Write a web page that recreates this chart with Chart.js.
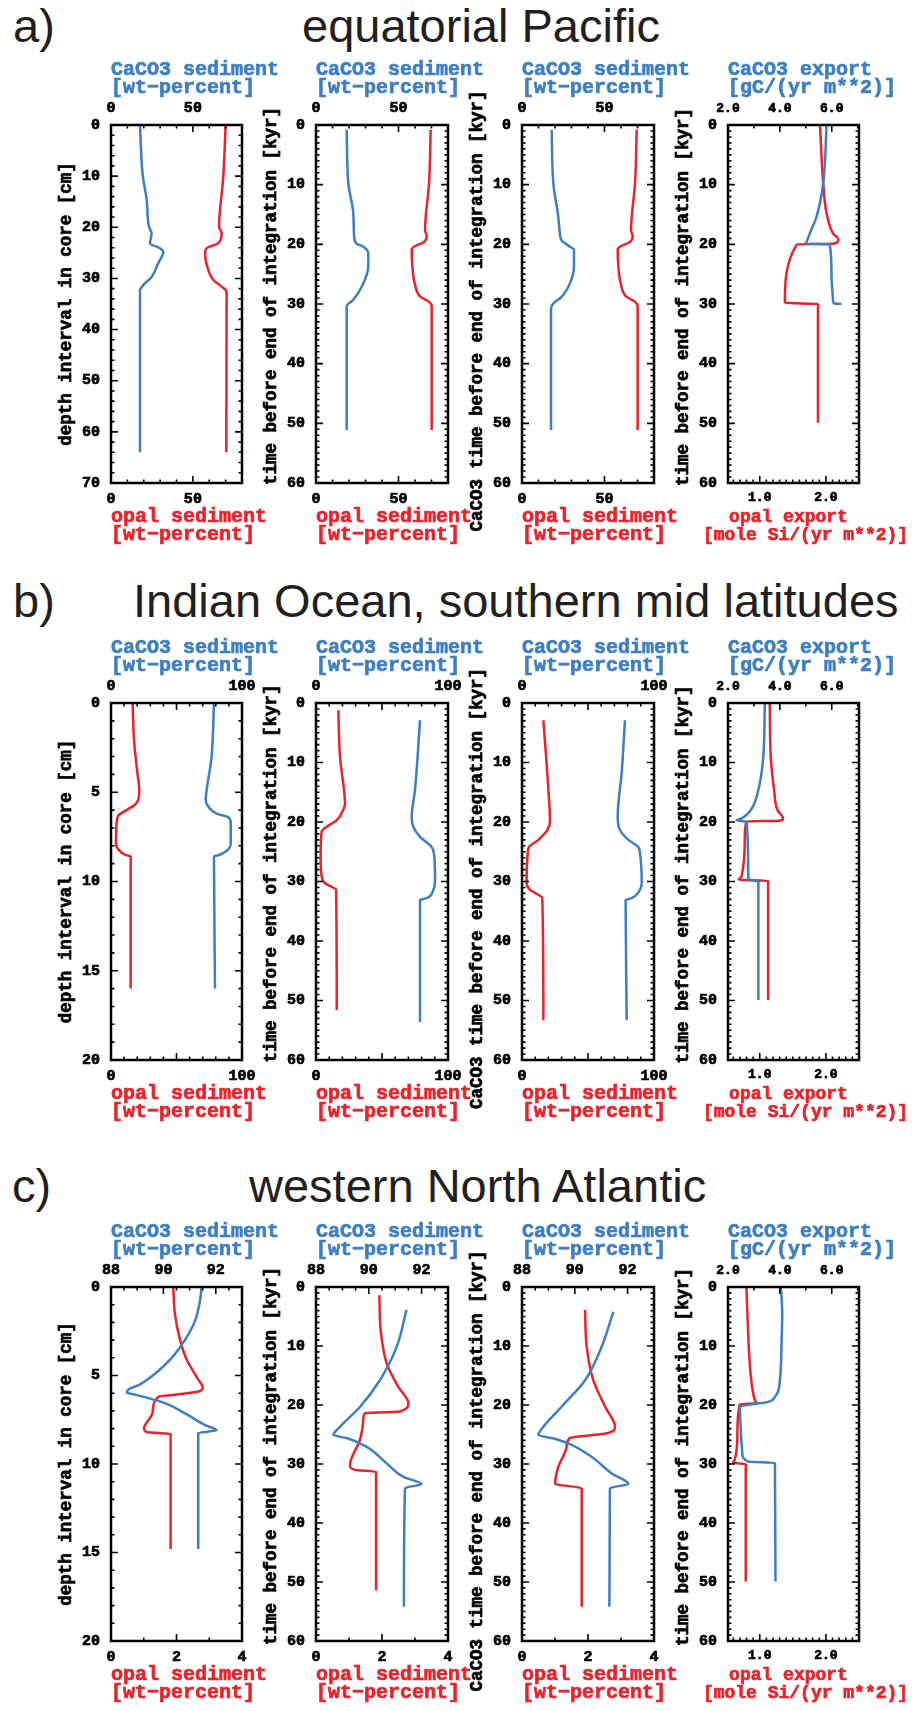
<!DOCTYPE html>
<html>
<head>
<meta charset="utf-8">
<title>CaCO3 and opal profiles</title>
<script src="https://cdn.jsdelivr.net/npm/chart.js@4.4.1/dist/chart.umd.min.js"></script>
<style>
  html, body { margin: 0; padding: 0; background: #fff; overflow: hidden; }
  #fig { position: relative; width: 912px; height: 1711px; }
  #fig canvas { position: absolute; }
  .head { position: absolute; font-family: "Liberation Sans", Arial, sans-serif; font-size: 47px;
          line-height: 47px; color: #231f20; white-space: nowrap; }
</style>
</head>
<body>
<div id="fig">
  <div class="head" style="left:13px; top:2px">a)</div>
  <div class="head" style="left:302px; top:2px">equatorial Pacific</div>
  <div class="head" style="left:13px; top:577px">b)</div>
  <div class="head" style="left:133px; top:577px">Indian Ocean, southern mid latitudes</div>
  <div class="head" style="left:12px; top:1162px">c)</div>
  <div class="head" style="left:249px; top:1162px">western North Atlantic</div>
</div>
<script>
const BLUE = '#3d7fc2';
const RED = '#e8232b';
const INK = '#000';
const MONO = '"Liberation Mono", "Courier New", monospace';

// ---- values ----
// a) equatorial Pacific (depth in cm / time in kyr, wt-percent, export fluxes)
const a1CaY = [0, 9.6, 14.7, 19.9, 21.2, 23.1, 24.1, 24.8, 27.0, 29.7, 31.3, 32.3, 64];
const a1Ca  = [17.7, 19.3, 21.8, 23.2, 24.8, 23.8, 29.9, 32.0, 28.9, 24.8, 19.7, 17.7, 17.7];
const a1OpY = [0, 10, 19.9, 21.2, 23.1, 24.1, 25.1, 27.7, 30.3, 31.6, 32.6, 64];
const a1Op  = [70.0, 68.6, 66.0, 67.6, 65.5, 58.4, 57.4, 58.8, 62.5, 67.6, 70.6, 70.4];

const a2CaY = [0.8, 9.8, 14.8, 18.2, 19.8, 20.4, 21.5, 23.7, 27.1, 29.3, 30.4, 51.1];
const a2Ca  = [18.6, 19.6, 22.6, 23.0, 24.2, 28.7, 31.7, 31.7, 27.7, 22.6, 18.6, 18.6];
const a2OpY = [0.8, 9.8, 15.4, 17.6, 18.7, 19.6, 20.4, 20.9, 23.7, 26.5, 28.8, 29.6, 30.4, 51.1];
const a2Op  = [69.5, 68.5, 66.5, 66.1, 67.1, 65.4, 59.4, 58.0, 58.4, 59.8, 63.4, 68.5, 70.1, 70.1];

const a3CaY = [0.8, 9.8, 15.4, 18.2, 19.3, 20.4, 20.9, 23.7, 26.5, 28.8, 29.9, 30.7, 51.1];
const a3Ca  = [18.0, 19.0, 22.0, 23.0, 24.0, 29.1, 31.5, 31.5, 29.1, 24.0, 19.0, 17.6, 17.6];
const a3OpY = [0.8, 9.8, 15.4, 17.6, 18.7, 19.6, 20.4, 20.9, 23.7, 26.5, 28.8, 29.6, 30.4, 51.1];
const a3Op  = [69.5, 68.5, 66.5, 66.1, 67.1, 65.4, 59.4, 58.0, 58.4, 59.8, 63.4, 68.5, 70.1, 70.1];

const a4CaY = [0, 9.8, 15.4, 18.2, 19.6, 19.9, 20.0, 25.0, 29.5, 29.9, 30.0];
const a4Ca  = [5.80, 5.67, 5.41, 5.15, 5.03, 5.00, 5.92, 5.99, 6.05, 6.10, 6.37];
const a4OpY = [0, 9.8, 14.8, 18.2, 19.2, 19.9, 20.0, 29.8, 30.0, 49.9];
const a4Op  = [1.91, 1.96, 2.01, 2.11, 2.19, 2.12, 1.56, 1.38, 1.88, 1.88];

// b) Indian Ocean, southern mid latitudes
const b1CaY = [0, 3.0, 4.9, 5.4, 5.8, 6.2, 6.4, 6.7, 7.9, 8.2, 8.5, 8.6, 16.0];
const b1Ca  = [78.6, 76.8, 73.0, 72.3, 74.3, 80.7, 89.6, 91.4, 91.4, 89.6, 83.2, 78.6, 79.4];
const b1OpY = [0, 2.1, 3.9, 4.9, 5.4, 5.7, 6.1, 6.3, 6.7, 7.9, 8.2, 8.5, 8.6, 16.0];
const b1Op  = [16.5, 17.6, 20.1, 21.6, 20.9, 18.3, 9.4, 5.6, 4.3, 3.8, 5.6, 10.7, 15.0, 15.0];

const b2CaY = [2.9, 14.6, 19.1, 20.8, 22.5, 24.2, 25.3, 29.7, 31.4, 32.8, 33.1, 53.6];
const b2Ca  = [78.8, 75.0, 72.5, 73.7, 78.8, 87.6, 89.4, 90.2, 88.9, 83.8, 78.8, 78.8];
const b2OpY = [1.2, 9.0, 14.6, 16.9, 18.5, 19.7, 20.8, 21.6, 25.8, 29.2, 30.3, 31.4, 51.6];
const b2Op  = [16.9, 18.2, 21.2, 22.0, 19.4, 15.7, 8.1, 4.3, 3.5, 4.3, 6.8, 15.2, 15.7];

const b3CaY = [2.9, 11.8, 19.1, 21.3, 23.0, 24.2, 25.3, 30.3, 31.7, 32.8, 33.1, 53.3];
const b3Ca  = [78.0, 75.5, 72.5, 74.2, 80.6, 88.1, 89.4, 90.7, 88.6, 83.1, 78.5, 79.3];
const b3OpY = [2.9, 14.6, 19.7, 21.3, 23.0, 24.2, 25.3, 30.3, 31.4, 32.8, 53.3];
const b3Op  = [16.2, 20.0, 21.2, 19.4, 12.4, 5.3, 4.3, 3.5, 6.1, 15.4, 16.2];

const b4CaY = [0, 9.0, 14.6, 18.0, 19.4, 19.7, 20.0, 29.2, 29.8, 30.0, 49.9];
const b4Ca  = [3.42, 3.36, 3.17, 2.88, 2.53, 2.33, 2.72, 2.78, 2.85, 3.17, 3.17];
const b4OpY = [0, 9.0, 14.6, 18.0, 19.4, 19.8, 19.9, 23.0, 29.2, 29.7, 29.9, 49.9];
const b4Op  = [1.151, 1.166, 1.217, 1.268, 1.353, 1.30, 0.798, 0.773, 0.722, 0.682, 1.126, 1.126];

// c) western North Atlantic
const c1CaY = [0, 0.75, 1.9, 3.0, 4.0, 4.9, 5.5, 5.8, 5.97, 6.06, 6.25, 6.6, 7.2, 7.8, 8.1, 8.25, 14.8];
const c1Ca  = [91.46, 91.40, 91.21, 90.82, 90.32, 89.68, 89.11, 88.66, 88.60, 88.85, 89.36, 90.13, 90.89, 91.59, 92.03, 91.33, 91.33];
const c1OpY = [0, 1.5, 3.0, 4.1, 5.1, 5.7, 5.9, 6.1, 6.2, 7.1, 8.0, 8.2, 8.3, 14.8];
const c1Op  = [1.90, 1.95, 2.11, 2.31, 2.62, 2.80, 2.67, 1.90, 1.45, 1.27, 1.01, 1.09, 1.82, 1.82];

const c2CaY = [3.9, 10.1, 15.8, 20.3, 23.7, 25.1, 25.6, 27.1, 29.9, 32.2, 33.4, 34.1, 54.2];
const c2Ca  = [91.43, 91.06, 90.42, 89.67, 88.91, 88.66, 89.16, 89.92, 90.68, 91.31, 92.00, 91.37, 91.33];
const c2OpY = [1.4, 7.3, 12.9, 16.9, 19.7, 21.1, 21.4, 22.5, 25.9, 30.2, 31.0, 31.3, 51.4];
const c2Op  = [1.92, 1.96, 2.14, 2.49, 2.80, 2.55, 1.48, 1.43, 1.33, 1.03, 1.18, 1.82, 1.82];

const c3CaY = [4.2, 10.1, 15.8, 20.3, 23.7, 25.1, 25.6, 26.5, 28.8, 31.6, 33.4, 34.1, 54.2];
const c3Ca  = [91.46, 91.02, 90.39, 89.50, 88.81, 88.62, 89.12, 89.75, 90.64, 91.40, 92.03, 91.33, 91.31];
const c3OpY = [3.9, 10.1, 15.8, 20.3, 23.7, 24.8, 25.6, 27.1, 30.5, 33.4, 34.1, 54.2];
const c3Op  = [1.91, 1.96, 2.16, 2.52, 2.82, 2.57, 1.45, 1.35, 1.10, 1.00, 1.81, 1.81];

const c4CaY = [0, 4.5, 10.1, 15.8, 18.6, 19.6, 19.8, 20.3, 24.8, 28.2, 29.6, 29.8, 49.9];
const c4Ca  = [4.04, 4.09, 4.06, 4.00, 3.81, 3.42, 3.04, 2.46, 2.50, 2.55, 2.78, 3.81, 3.83];
const c4OpY = [0, 7.3, 12.9, 16.9, 19.1, 19.7, 19.9, 24.8, 29.3, 29.8, 30.0, 49.9];
const c4Op  = [0.798, 0.823, 0.848, 0.884, 0.924, 0.950, 0.697, 0.662, 0.621, 0.596, 0.788, 0.788];

// tick labels
const depthLabelsA = [0, 10, 20, 30, 40, 50, 60, 70];
const depthLabelsBC = [0, 5, 10, 15, 20];
const timeLabels = [0, 10, 20, 30, 40, 50, 60];
const sedLabelsA = [0, 50];
const sedLabelsB = [0, 100];
const caLabelsC = [88, 90, 92];
const opLabelsC = [0, 2, 4];
const expCaLabels = [2, 4, 6];
const expOpLabels = [1, 2];

// axis texts
const sedTop = ['CaCO3 sediment', '[wt\u2212percent]'];
const sedBot = ['opal sediment', '[wt\u2212percent]'];
const expTop = ['CaCO3 export', '[gC/(yr m**2)]'];
const expBot = ['opal export', '[mole Si/(yr m**2)]'];
const yTitles = ['depth interval in core [cm]', 'time before end of integration [kyr]',
                 'CaCO3 time before end of integration [kyr]', 'time before end of integration [kyr]'];

// axis ranges / tick spacing
const axDepthA = {min: 0, max: 70, labels: depthLabelsA, major: 10, minor: 2};
const axDepthBC = {min: 0, max: 20, labels: depthLabelsBC, major: 5, minor: 1};
const axTime = {min: 0, max: 60, labels: timeLabels, major: 10, minor: 1};
const axSedA = {min: 0, max: 80, labels: sedLabelsA, major: 50, minor: 10};
const axSedB = {min: 0, max: 100, labels: sedLabelsB, major: 50, minor: 10};
const axCaC = {min: 88, max: 93, labels: caLabelsC, major: 2, minor: 0.5};
const axOpC = {min: 0, max: 4, labels: opLabelsC, major: 2, minor: 1};
const axExpCa = {min: 2, max: 7.05, labels: expCaLabels, major: 2, minor: 1, dec: 1, size: 13};
const axExpOp = {min: 0.52, max: 2.5, labels: expOpLabels, major: 1, minor: 0.1, dec: 1, size: 13};

// page layout
const plotLeft = [111, 316, 522, 728];
const plotWidth = [131, 132, 132, 131];
const rowTop = [125, 703, 1287];
const rowHeight = [358, 357, 354];
const yTitleShift = [0, -8, 7, -7];
const PADL = 70, PADT = 70, PADR = 60, PADB = 65;

function tickList(ax) {
  const out = [];
  const n0 = Math.ceil(ax.min / ax.minor - 1e-9), n1 = Math.floor(ax.max / ax.minor + 1e-9);
  for (let n = n0; n <= n1; n++) {
    const v = n * ax.minor, r = v / ax.major;
    out.push({v, major: Math.abs(r - Math.round(r)) < 1e-6});
  }
  return out;
}

function scaleFor(ax, position, fit) {
  return {
    type: 'linear', position, min: ax.min, max: ax.max,
    reverse: position === 'left',
    afterFit: fit,
    afterBuildTicks: s => { s.ticks = ax.labels.map(v => ({value: v})); },
    grid: {display: false, drawTicks: false},
    border: {display: false},
    ticks: {
      autoSkip: false, maxRotation: 0, minRotation: 0, color: INK,
      textStrokeColor: INK, textStrokeWidth: 0.7,
      padding: position === 'left' ? 11 : (position === 'top' ? 8 : 7),
      font: {family: MONO, weight: 'bold', size: ax.size || 15},
      callback: v => ax.dec ? Number(v).toFixed(ax.dec) : String(v)
    }
  };
}

// text drawn a little heavier, like the original plot fonts
function heavyText(ctx, s, x, y) {
  ctx.strokeText(s, x, y);
  ctx.fillText(s, x, y);
}

function panel(row, col, ca, op, axY, axTop, axBot, topText, botText) {
  const W = plotWidth[col], H = rowHeight[row];
  const canvas = document.createElement('canvas');
  canvas.width = W + PADL + PADR;
  canvas.height = H + PADT + PADB;
  canvas.style.left = (plotLeft[col] - PADL) + 'px';
  canvas.style.top = (rowTop[row] - PADT) + 'px';
  document.getElementById('fig').appendChild(canvas);

  const deco = {
    id: 'deco',
    afterDatasetsDraw(chart) {
      const {ctx, chartArea: a, scales} = chart;
      ctx.save();
      // inward tick marks
      ctx.strokeStyle = INK;
      ctx.lineWidth = 1.6;
      ctx.beginPath();
      for (const t of tickList(axY)) {
        const p = scales.y.getPixelForValue(t.v), len = t.major ? 7 : 3.5;
        ctx.moveTo(a.left, p); ctx.lineTo(a.left + len, p);
        ctx.moveTo(a.right, p); ctx.lineTo(a.right - len, p);
      }
      for (const t of tickList(axTop)) {
        const p = scales.xTop.getPixelForValue(t.v), len = t.major ? 7 : 3.5;
        ctx.moveTo(p, a.top); ctx.lineTo(p, a.top + len);
      }
      for (const t of tickList(axBot)) {
        const p = scales.xBot.getPixelForValue(t.v), len = t.major ? 7 : 3.5;
        ctx.moveTo(p, a.bottom); ctx.lineTo(p, a.bottom - len);
      }
      ctx.stroke();
      ctx.lineWidth = 2.5;
      ctx.strokeRect(a.left, a.top, a.right - a.left, a.bottom - a.top);

      // axis titles
      ctx.font = 'bold 20px ' + MONO;
      ctx.lineWidth = 0.7;
      ctx.textBaseline = 'middle';
      ctx.textAlign = 'left';
      ctx.fillStyle = ctx.strokeStyle = BLUE;
      topText.forEach((s, i) => heavyText(ctx, s, a.left, a.top - 55 + 18 * i));
      ctx.fillStyle = ctx.strokeStyle = RED;
      if (col === 3) {
        const cx = (a.left + a.right) / 2;
        ctx.font = 'bold 18px ' + MONO;
        ctx.textAlign = 'center';
        heavyText(ctx, botText[0], cx - 5, a.bottom + 34);
        heavyText(ctx, botText[1], cx + 12, a.bottom + 52);
      } else {
        botText.forEach((s, i) => heavyText(ctx, s, a.left, a.bottom + 34 + 18 * i));
      }
      ctx.translate(a.left - 44, (a.top + a.bottom) / 2 + yTitleShift[col]);
      ctx.rotate(-Math.PI / 2);
      ctx.font = 'bold 17.5px ' + MONO;
      ctx.textAlign = 'center';
      ctx.fillStyle = ctx.strokeStyle = INK;
      heavyText(ctx, yTitles[col], 0, 0);
      ctx.restore();
    }
  };

  const pts = (ys, xs) => ys.map((y, i) => ({x: xs[i], y}));
  new Chart(canvas, {
    type: 'line',
    data: {
      datasets: [
        {data: pts(ca[0], ca[1]), xAxisID: 'xTop', yAxisID: 'y', borderColor: BLUE},
        {data: pts(op[0], op[1]), xAxisID: 'xBot', yAxisID: 'y', borderColor: RED}
      ]
    },
    options: {
      indexAxis: 'y',
      responsive: false,
      animation: false,
      layout: {padding: 0},
      elements: {
        point: {radius: 0},
        line: {borderWidth: 2.5, fill: false, cubicInterpolationMode: 'monotone'}
      },
      plugins: {legend: {display: false}, tooltip: {enabled: false}},
      scales: {
        y: scaleFor(axY, 'left', s => { s.width = PADL; }),
        yR: {type: 'linear', position: 'right', afterFit: s => { s.width = PADR; },
             grid: {display: false, drawTicks: false}, border: {display: false}, ticks: {display: false}},
        xTop: scaleFor(axTop, 'top', s => { s.height = PADT; }),
        xBot: scaleFor(axBot, 'bottom', s => { s.height = PADB; })
      }
    },
    plugins: [deco]
  });
}

panel(0, 0, [a1CaY, a1Ca], [a1OpY, a1Op], axDepthA, axSedA, axSedA, sedTop, sedBot);
panel(0, 1, [a2CaY, a2Ca], [a2OpY, a2Op], axTime, axSedA, axSedA, sedTop, sedBot);
panel(0, 2, [a3CaY, a3Ca], [a3OpY, a3Op], axTime, axSedA, axSedA, sedTop, sedBot);
panel(0, 3, [a4CaY, a4Ca], [a4OpY, a4Op], axTime, axExpCa, axExpOp, expTop, expBot);

panel(1, 0, [b1CaY, b1Ca], [b1OpY, b1Op], axDepthBC, axSedB, axSedB, sedTop, sedBot);
panel(1, 1, [b2CaY, b2Ca], [b2OpY, b2Op], axTime, axSedB, axSedB, sedTop, sedBot);
panel(1, 2, [b3CaY, b3Ca], [b3OpY, b3Op], axTime, axSedB, axSedB, sedTop, sedBot);
panel(1, 3, [b4CaY, b4Ca], [b4OpY, b4Op], axTime, axExpCa, axExpOp, expTop, expBot);

panel(2, 0, [c1CaY, c1Ca], [c1OpY, c1Op], axDepthBC, axCaC, axOpC, sedTop, sedBot);
panel(2, 1, [c2CaY, c2Ca], [c2OpY, c2Op], axTime, axCaC, axOpC, sedTop, sedBot);
panel(2, 2, [c3CaY, c3Ca], [c3OpY, c3Op], axTime, axCaC, axOpC, sedTop, sedBot);
panel(2, 3, [c4CaY, c4Ca], [c4OpY, c4Op], axTime, axExpCa, axExpOp, expTop, expBot);
</script>
</body>
</html>
